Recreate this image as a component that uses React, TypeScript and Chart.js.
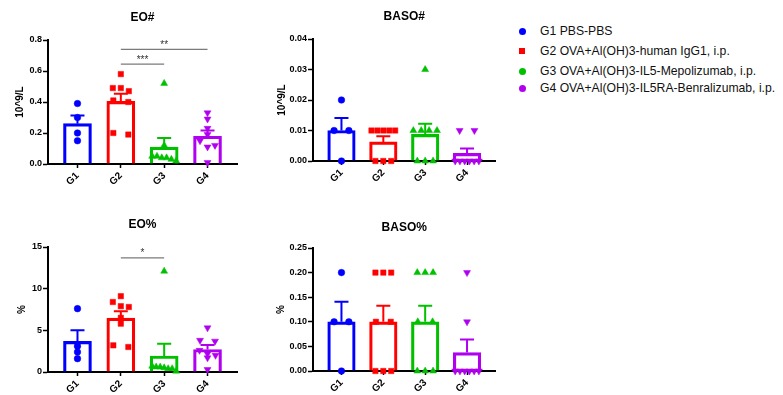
import React, { useEffect, useRef } from 'react';
import { Chart, registerables } from 'chart.js';

Chart.register(...registerables);

// ---------- data ----------
const groups = ['G1', 'G2', 'G3', 'G4'];
const legendLabels = [
  'G1 PBS-PBS',
  'G2 OVA+Al(OH)3-human IgG1, i.p.',
  'G3 OVA+Al(OH)3-IL5-Mepolizumab, i.p.',
  'G4 OVA+Al(OH)3-IL5RA-Benralizumab, i.p.',
];

// EO# (10^9/L)
const eoAbsValues = [
  [0.39, 0.30, 0.20, 0.15],
  [0.58, 0.49, 0.49, 0.47, 0.41, 0.40, 0.20, 0.19],
  [0.52, 0.12, 0.05, 0.05, 0.04, 0.04, 0.03, 0.02],
  [0.33, 0.29, 0.23, 0.19, 0.15, 0.12, 0.11, 0.01],
];
const eoAbsTicks = [0, 0.2, 0.4, 0.6, 0.8];
const eoAbsSig = [
  { from: 1, to: 2, y: 0.645, label: '***' },
  { from: 1, to: 3, y: 0.74, label: '**' },
];

// BASO# (10^9/L)
const basoAbsValues = [
  [0.02, 0.01, 0.01, 0.0],
  [0.01, 0.01, 0.01, 0.01, 0.01, 0.0, 0.0, 0.0],
  [0.03, 0.01, 0.01, 0.01, 0.01, 0.0, 0.0, 0.0],
  [0.01, 0.01, 0.0, 0.0, 0.0, 0.0, 0.0, 0.0],
];
const basoAbsTicks = [0, 0.01, 0.02, 0.03, 0.04];

// EO%
const eoPctValues = [
  [7.6, 3.1, 2.4, 1.6],
  [9.1, 8.4, 7.9, 7.8, 6.5, 5.8, 3.2, 3.0],
  [12.1, 0.7, 0.6, 0.6, 0.5, 0.4, 0.4, 0.1],
  [5.3, 3.8, 3.7, 2.6, 2.2, 2.0, 1.7, 0.3],
];
const eoPctTicks = [0, 5, 10, 15];
const eoPctSig = [{ from: 1, to: 2, y: 13.7, label: '*' }];

// BASO%
const basoPctValues = [
  [0.2, 0.1, 0.1, 0.0],
  [0.2, 0.2, 0.2, 0.1, 0.1, 0.0, 0.0, 0.0],
  [0.2, 0.2, 0.2, 0.1, 0.1, 0.0, 0.0, 0.0],
  [0.2, 0.1, 0.0, 0.0, 0.0, 0.0, 0.0, 0.0],
];
const basoPctTicks = [0, 0.05, 0.1, 0.15, 0.2, 0.25];

// ---------- styles / layout ----------
const FONT = "'Liberation Sans', Arial, Helvetica, sans-serif";
const colors = ['#0000FF', '#FF0000', '#00C000', '#B000F0'];
const pointStyles = ['circle', 'rect', 'triangle', 'triangle'];
const pointRotations = [0, 0, 0, 180];
const pointRadii = [3.3, 3.8, 4.0, 4.0];
const X_MIN = -0.68;
const X_MAX = 3.68;

type Sig = { from: number; to: number; y: number; label: string };
type PanelDef = {
  title: string;
  yTitle: string;
  values: number[][];
  ticks: number[];
  decimals: number;
  sig: Sig[];
  box: { left: number; top: number; width: number; height: number };
  area: { left: number; right: number; top: number; bottom: number };
  titleY: number;
  yTitleX: number;
  barThickness: number;
};

const panels: PanelDef[] = [
  {
    title: 'EO#', yTitle: '10^9/L', values: eoAbsValues, ticks: eoAbsTicks, decimals: 1, sig: eoAbsSig,
    box: { left: 0, top: 0, width: 250, height: 200 },
    area: { left: 48, right: 237, top: 40, bottom: 164 },
    titleY: 18, yTitleX: 20, barThickness: 28,
  },
  {
    title: 'BASO#', yTitle: '10^9/L', values: basoAbsValues, ticks: basoAbsTicks, decimals: 2, sig: [],
    box: { left: 250, top: 0, width: 250, height: 200 },
    area: { left: 63, right: 248, top: 39, bottom: 161 },
    titleY: 17, yTitleX: 32, barThickness: 27.5,
  },
  {
    title: 'EO%', yTitle: '%', values: eoPctValues, ticks: eoPctTicks, decimals: 0, sig: eoPctSig,
    box: { left: 0, top: 200, width: 250, height: 195 },
    area: { left: 48, right: 237, top: 47, bottom: 172 },
    titleY: 25, yTitleX: 22, barThickness: 28,
  },
  {
    title: 'BASO%', yTitle: '%', values: basoPctValues, ticks: basoPctTicks, decimals: 2, sig: [],
    box: { left: 250, top: 200, width: 250, height: 195 },
    area: { left: 63, right: 248, top: 48, bottom: 171 },
    titleY: 28, yTitleX: 31, barThickness: 27.5,
  },
];

function mean(a: number[]) {
  return a.reduce((s, v) => s + v, 0) / a.length;
}
function sem(a: number[]) {
  const m = mean(a);
  const ss = a.reduce((s, v) => s + (v - m) * (v - m), 0);
  return Math.sqrt(ss / (a.length - 1)) / Math.sqrt(a.length);
}

// horizontal spreading of points that share (nearly) the same value
function spread(values: number[], pxPerY: number, pxPerX: number) {
  const idx = values.map((_, i) => i).sort((a, b) => values[b] - values[a]);
  const xs = new Array(values.length).fill(0);
  let i = 0;
  while (i < idx.length) {
    const row = [idx[i]];
    let j = i + 1;
    while (j < idx.length && (values[idx[i]] - values[idx[j]]) * pxPerY < 5.5) {
      row.push(idx[j]);
      j++;
    }
    const n = row.length;
    const d = n === 2 ? 15 : n > 2 ? Math.min(8, 24 / (n - 1)) : 0;
    row.forEach((k, r) => {
      xs[k] = ((r - (n - 1) / 2) * d) / pxPerX;
    });
    i = j;
  }
  return xs;
}

function PanelChart({ p }: { p: PanelDef }) {
  const ref = useRef<HTMLCanvasElement>(null);
  useEffect(() => {
    const canvas = ref.current;
    if (!canvas) return;
    const { area, box } = p;
    const yMax = p.ticks[p.ticks.length - 1];
    const pxPerY = (area.bottom - area.top) / yMax;
    const pxPerX = (area.right - area.left) / (X_MAX - X_MIN);
    const means = p.values.map(mean);
    const sems = p.values.map(sem);

    const barSet: any = {
      type: 'bar',
      data: means.map((m, g) => ({ x: g, y: m })),
      backgroundColor: 'rgba(255,255,255,0)',
      borderColor: colors,
      borderWidth: 2.5,
      borderSkipped: 'start',
      barThickness: p.barThickness,
      order: 2,
    };
    const scatterSets: any[] = p.values.map((vals, g) => {
      const offs = spread(vals, pxPerY, pxPerX);
      return {
        type: 'scatter',
        label: groups[g],
        data: vals.map((v, k) => ({ x: g + offs[k], y: v })),
        pointStyle: pointStyles[g],
        pointRotation: pointRotations[g],
        pointRadius: pointRadii[g],
        pointBackgroundColor: colors[g],
        pointBorderColor: colors[g],
        pointBorderWidth: 0.5,
        showLine: false,
        clip: false,
        order: 1,
      };
    });

    const overlay = {
      id: 'overlay',
      afterDatasetDraw(chart: any, args: any) {
        if (args.index !== 0) return;
        const ctx = chart.ctx;
        const xs = chart.scales.x;
        const ys = chart.scales.y;
        ctx.save();
        means.forEach((m, g) => {
          const x = xs.getPixelForValue(g);
          const y0 = ys.getPixelForValue(m);
          const y1 = ys.getPixelForValue(m + sems[g]);
          ctx.strokeStyle = colors[g];
          ctx.lineWidth = 2;
          ctx.beginPath();
          ctx.moveTo(x, y0);
          ctx.lineTo(x, y1);
          ctx.moveTo(x - 7, y1);
          ctx.lineTo(x + 7, y1);
          ctx.stroke();
        });
        ctx.restore();
      },
      afterDraw(chart: any) {
        const ctx = chart.ctx;
        const ca = chart.chartArea;
        const xs = chart.scales.x;
        const ys = chart.scales.y;
        ctx.save();
        ctx.fillStyle = '#000';
        ctx.font = `bold 12px ${FONT}`;
        ctx.textAlign = 'center';
        ctx.textBaseline = 'middle';
        ctx.fillText(p.title, (ca.left + ca.right) / 2, p.titleY);

        ctx.save();
        ctx.translate(p.yTitleX, (ca.top + ca.bottom) / 2);
        ctx.rotate(-Math.PI / 2);
        ctx.font = `bold 10px ${FONT}`;
        ctx.fillText(p.yTitle, 0, 0);
        ctx.restore();

        p.sig.forEach((s) => {
          const x1 = xs.getPixelForValue(s.from);
          const x2 = xs.getPixelForValue(s.to);
          const y = ys.getPixelForValue(s.y);
          ctx.strokeStyle = '#7a7a7a';
          ctx.lineWidth = 1.2;
          ctx.beginPath();
          ctx.moveTo(x1, y);
          ctx.lineTo(x2, y);
          ctx.stroke();
          ctx.fillStyle = '#333';
          ctx.font = `10px ${FONT}`;
          ctx.textAlign = 'center';
          ctx.textBaseline = 'alphabetic';
          ctx.fillText(s.label, (x1 + x2) / 2, y - 1.5);
        });
        ctx.restore();
      },
    };

    const chart = new Chart(canvas, {
      type: 'bar',
      data: { datasets: [barSet, ...scatterSets] },
      options: {
        responsive: false,
        animation: false,
        events: [],
        layout: { padding: { left: 0, top: area.top, right: box.width - area.right, bottom: 0 } },
        plugins: {
          legend: { display: false },
          tooltip: { enabled: false },
          title: { display: false },
        },
        scales: {
          x: {
            type: 'linear',
            min: X_MIN,
            max: X_MAX,
            offset: false,
            afterBuildTicks: (s: any) => {
              s.ticks = groups.map((_, i) => ({ value: i }));
            },
            afterFit: (s: any) => {
              s.height = box.height - area.bottom;
            },
            ticks: {
              autoSkip: false,
              minRotation: 45,
              maxRotation: 45,
              padding: 2,
              color: '#000',
              font: { family: FONT, size: 10, weight: 'bold' },
              callback: (v: any) => groups[Math.round(Number(v))] ?? '',
            },
            grid: {
              display: true,
              offset: false,
              drawOnChartArea: false,
              drawTicks: true,
              tickLength: 4,
              tickColor: '#000',
              tickWidth: 1.5,
            },
            border: { display: true, color: '#000', width: 2 },
          },
          y: {
            type: 'linear',
            min: 0,
            max: yMax,
            afterBuildTicks: (s: any) => {
              s.ticks = p.ticks.map((v) => ({ value: v }));
            },
            afterFit: (s: any) => {
              s.width = area.left;
            },
            ticks: {
              padding: 1,
              color: '#000',
              font: { family: FONT, size: 9, weight: 'bold' },
              callback: (v: any) => Number(v).toFixed(p.decimals),
            },
            grid: {
              display: true,
              drawOnChartArea: false,
              drawTicks: true,
              tickLength: 5,
              tickColor: '#000',
              tickWidth: 1.5,
            },
            border: { display: true, color: '#000', width: 2 },
          },
        },
      } as any,
      plugins: [overlay],
    } as any);
    return () => chart.destroy();
  }, [p]);

  return (
    <canvas
      ref={ref}
      width={p.box.width}
      height={p.box.height}
      style={{
        position: 'absolute',
        left: p.box.left,
        top: p.box.top,
        width: p.box.width,
        height: p.box.height,
        display: 'block',
      }}
    />
  );
}

const legendRowY = [31, 51, 71, 88];

function Legend() {
  return (
    <div style={{ position: 'absolute', left: 0, top: 0 }}>
      {legendLabels.map((label, g) => {
        const isSquare = g === 1;
        const size = isSquare ? 6.5 : 7;
        return (
          <React.Fragment key={label}>
            <div
              style={{
                position: 'absolute',
                left: 522 - size / 2,
                top: legendRowY[g] - size / 2,
                width: size,
                height: size,
                background: colors[g],
                borderRadius: isSquare ? 0 : '50%',
              }}
            />
            <div
              style={{
                position: 'absolute',
                left: 540,
                top: legendRowY[g] - 8,
                height: 16,
                lineHeight: '16px',
                fontFamily: FONT,
                fontSize: 12.2,
                color: '#111',
                whiteSpace: 'nowrap',
              }}
            >
              {label}
            </div>
          </React.Fragment>
        );
      })}
    </div>
  );
}

export default function App() {
  return (
    <div
      style={{
        position: 'absolute',
        left: 0,
        top: 0,
        width: 783,
        height: 395,
        background: '#fff',
        overflow: 'hidden',
      }}
    >
      {panels.map((p) => (
        <PanelChart key={p.title} p={p} />
      ))}
      <Legend />
    </div>
  );
}
